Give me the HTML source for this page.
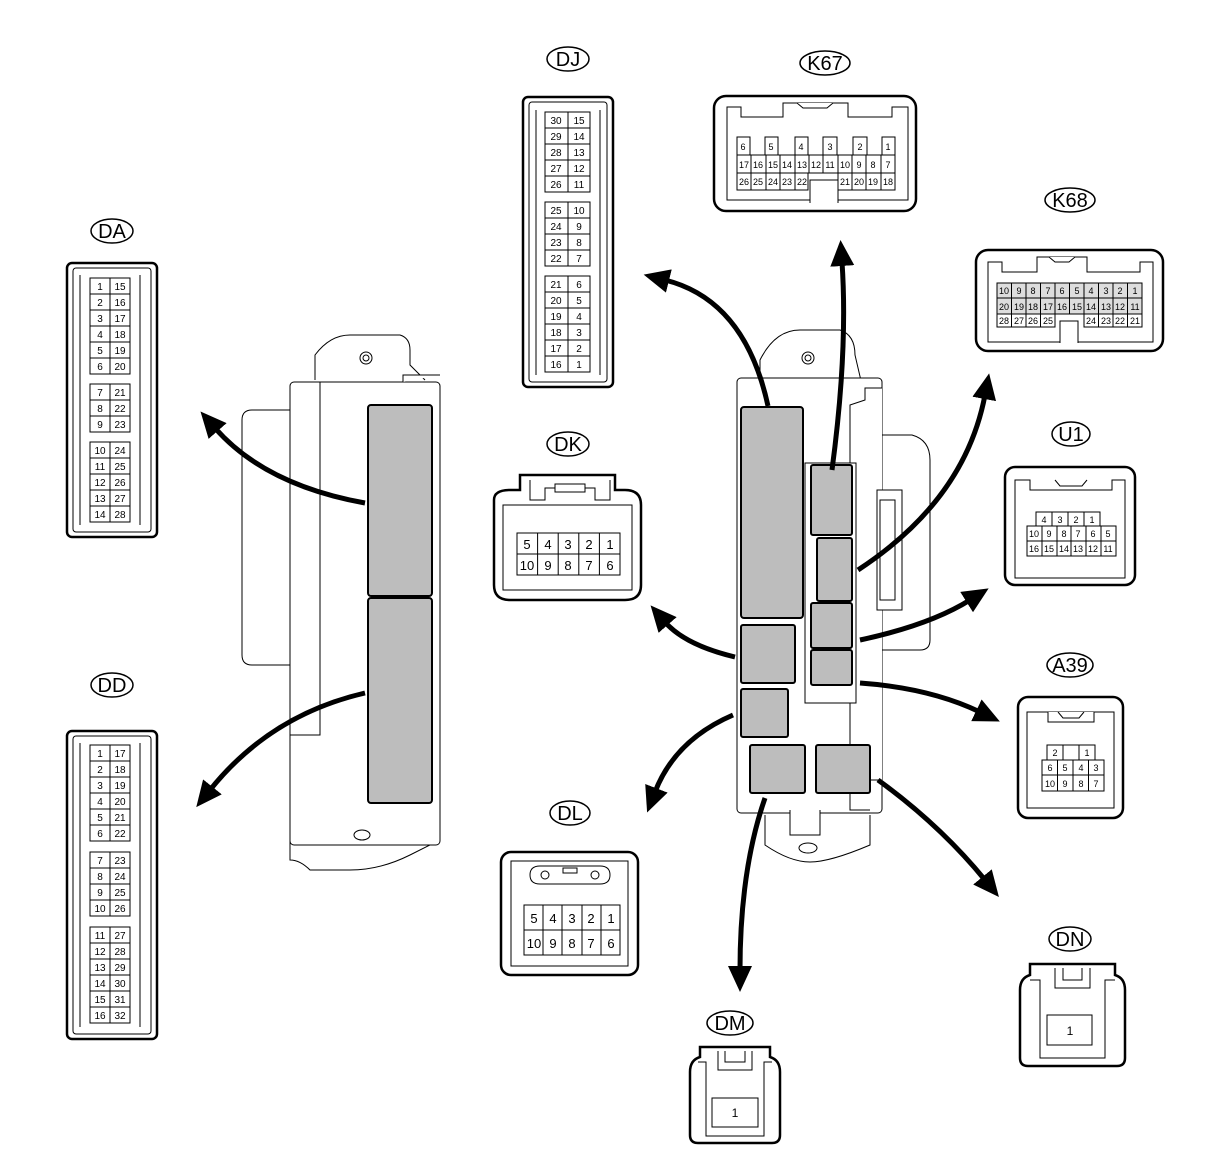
<!DOCTYPE html>
<html><head><meta charset="utf-8"><style>
html,body{margin:0;padding:0;background:#fff}
svg{display:block}
text{font-family:"Liberation Sans",sans-serif;fill:#000}
.p{font-size:10px;text-anchor:middle}
.l{font-size:20px;text-anchor:middle}
.c{fill:#fff;stroke:#000;stroke-width:1}
.g{fill:#bdbdbd;stroke:#000;stroke-width:2}
.o{fill:#fff;stroke:#000;stroke-width:1}
.a{fill:none;stroke:#000;stroke-width:5}
.b{fill:none;stroke:#000;stroke-width:3}
</style></head><body>
<svg width="1210" height="1156" viewBox="0 0 1210 1156" xmlns="http://www.w3.org/2000/svg">
<defs>
<marker id="ah" markerUnits="userSpaceOnUse" markerWidth="30" markerHeight="30" refX="4" refY="12" orient="auto">
<path d="M0,0 L26,12 L0,24 Z" fill="#000"/>
</marker>
</defs>

<!-- Labels -->
<g fill="#fff" stroke="#000" stroke-width="1.5">
<ellipse cx="112" cy="231" rx="21" ry="12"/>
<ellipse cx="112" cy="685" rx="21" ry="12"/>
<ellipse cx="568" cy="59" rx="21" ry="12"/>
<ellipse cx="825" cy="63" rx="25" ry="12"/>
<ellipse cx="1070" cy="200" rx="25" ry="12"/>
<ellipse cx="568" cy="444" rx="21" ry="12"/>
<ellipse cx="1071" cy="434" rx="19" ry="12"/>
<ellipse cx="1070" cy="665" rx="23" ry="12"/>
<ellipse cx="570" cy="813" rx="20" ry="12"/>
<ellipse cx="1070" cy="939" rx="21" ry="12"/>
<ellipse cx="730" cy="1023" rx="23" ry="12"/>
</g>
<text class="l" x="112" y="238">DA</text>
<text class="l" x="112" y="692">DD</text>
<text class="l" x="568" y="66">DJ</text>
<text class="l" x="825" y="70">K67</text>
<text class="l" x="1070" y="207">K68</text>
<text class="l" x="568" y="451">DK</text>
<text class="l" x="1071" y="441">U1</text>
<text class="l" x="1070" y="672">A39</text>
<text class="l" x="570" y="820">DL</text>
<text class="l" x="1070" y="946">DN</text>
<text class="l" x="730" y="1030">DM</text>

<!-- DA -->
<rect x="67" y="263" width="90" height="274" rx="5" fill="#fff" stroke="#000" stroke-width="2.5"/>
<rect x="73" y="268" width="78" height="264" rx="3" class="o"/>
<path d="M80,275 L80,525 M140,275 L140,525" stroke="#000" fill="none"/>
<g class="c">
<rect x="90" y="278" width="20" height="96"/><rect x="110" y="278" width="20" height="96"/>
<rect x="90" y="384" width="20" height="48"/><rect x="110" y="384" width="20" height="48"/>
<rect x="90" y="442" width="20" height="80"/><rect x="110" y="442" width="20" height="80"/>
</g>
<path d="M90,294h40M90,310h40M90,326h40M90,342h40M90,358h40M90,400h40M90,416h40M90,458h40M90,474h40M90,490h40M90,506h40" stroke="#000"/>
<g class="p">
<text x="100" y="290">1</text><text x="120" y="290">15</text>
<text x="100" y="306">2</text><text x="120" y="306">16</text>
<text x="100" y="322">3</text><text x="120" y="322">17</text>
<text x="100" y="338">4</text><text x="120" y="338">18</text>
<text x="100" y="354">5</text><text x="120" y="354">19</text>
<text x="100" y="370">6</text><text x="120" y="370">20</text>
<text x="100" y="396">7</text><text x="120" y="396">21</text>
<text x="100" y="412">8</text><text x="120" y="412">22</text>
<text x="100" y="428">9</text><text x="120" y="428">23</text>
<text x="100" y="454">10</text><text x="120" y="454">24</text>
<text x="100" y="470">11</text><text x="120" y="470">25</text>
<text x="100" y="486">12</text><text x="120" y="486">26</text>
<text x="100" y="502">13</text><text x="120" y="502">27</text>
<text x="100" y="518">14</text><text x="120" y="518">28</text>
</g>

<!-- DD -->
<rect x="67" y="731" width="90" height="308" rx="5" fill="#fff" stroke="#000" stroke-width="2.5"/>
<rect x="73" y="736" width="78" height="298" rx="3" class="o"/>
<path d="M80,743 L80,1027 M140,743 L140,1027" stroke="#000" fill="none"/>
<g class="c">
<rect x="90" y="745" width="20" height="96"/><rect x="110" y="745" width="20" height="96"/>
<rect x="90" y="852" width="20" height="64"/><rect x="110" y="852" width="20" height="64"/>
<rect x="90" y="927" width="20" height="96"/><rect x="110" y="927" width="20" height="96"/>
</g>
<path d="M90,761h40M90,777h40M90,793h40M90,809h40M90,825h40M90,868h40M90,884h40M90,900h40M90,943h40M90,959h40M90,975h40M90,991h40M90,1007h40" stroke="#000"/>
<g class="p">
<text x="100" y="757">1</text><text x="120" y="757">17</text>
<text x="100" y="773">2</text><text x="120" y="773">18</text>
<text x="100" y="789">3</text><text x="120" y="789">19</text>
<text x="100" y="805">4</text><text x="120" y="805">20</text>
<text x="100" y="821">5</text><text x="120" y="821">21</text>
<text x="100" y="837">6</text><text x="120" y="837">22</text>
<text x="100" y="864">7</text><text x="120" y="864">23</text>
<text x="100" y="880">8</text><text x="120" y="880">24</text>
<text x="100" y="896">9</text><text x="120" y="896">25</text>
<text x="100" y="912">10</text><text x="120" y="912">26</text>
<text x="100" y="939">11</text><text x="120" y="939">27</text>
<text x="100" y="955">12</text><text x="120" y="955">28</text>
<text x="100" y="971">13</text><text x="120" y="971">29</text>
<text x="100" y="987">14</text><text x="120" y="987">30</text>
<text x="100" y="1003">15</text><text x="120" y="1003">31</text>
<text x="100" y="1019">16</text><text x="120" y="1019">32</text>
</g>

<!-- DJ -->
<rect x="523" y="97" width="90" height="290" rx="5" fill="#fff" stroke="#000" stroke-width="2.5"/>
<rect x="529" y="102" width="78" height="280" rx="3" class="o"/>
<path d="M536,110 L536,375 M600,110 L600,375" stroke="#000" fill="none"/>
<g class="c">
<rect x="545" y="112" width="23" height="80"/><rect x="568" y="112" width="22" height="80"/>
<rect x="545" y="202" width="23" height="64"/><rect x="568" y="202" width="22" height="64"/>
<rect x="545" y="276" width="23" height="96"/><rect x="568" y="276" width="22" height="96"/>
</g>
<path d="M545,128h45M545,144h45M545,160h45M545,176h45M545,218h45M545,234h45M545,250h45M545,292h45M545,308h45M545,324h45M545,340h45M545,356h45" stroke="#000"/>
<g class="p">
<text x="556" y="124">30</text><text x="579" y="124">15</text>
<text x="556" y="140">29</text><text x="579" y="140">14</text>
<text x="556" y="156">28</text><text x="579" y="156">13</text>
<text x="556" y="172">27</text><text x="579" y="172">12</text>
<text x="556" y="188">26</text><text x="579" y="188">11</text>
<text x="556" y="214">25</text><text x="579" y="214">10</text>
<text x="556" y="230">24</text><text x="579" y="230">9</text>
<text x="556" y="246">23</text><text x="579" y="246">8</text>
<text x="556" y="262">22</text><text x="579" y="262">7</text>
<text x="556" y="288">21</text><text x="579" y="288">6</text>
<text x="556" y="304">20</text><text x="579" y="304">5</text>
<text x="556" y="320">19</text><text x="579" y="320">4</text>
<text x="556" y="336">18</text><text x="579" y="336">3</text>
<text x="556" y="352">17</text><text x="579" y="352">2</text>
<text x="556" y="368">16</text><text x="579" y="368">1</text>
</g>

<!-- K67 -->
<rect x="714" y="96" width="202" height="115" rx="12" fill="#fff" stroke="#000" stroke-width="2.5"/>
<path d="M727,200 L727,107 L741,107 L741,117 L783,117 L783,103 L848,103 L848,117 L892,117 L892,107 L908,107 L908,200 Z" class="o"/>
<path d="M797,103 L803,108 L827,108 L833,103" class="o"/>
<g class="c">
<rect x="737" y="137" width="13" height="18"/><rect x="765" y="137" width="13" height="18"/><rect x="795" y="137" width="13" height="18"/>
<rect x="823" y="137" width="14" height="18"/><rect x="853" y="137" width="14" height="18"/><rect x="882" y="137" width="13" height="18"/>
<rect x="737" y="155" width="158" height="18"/>
<rect x="737" y="173" width="71" height="17"/><rect x="838" y="173" width="57" height="17"/>
</g>
<path d="M751,155v18M766,155v18M780,155v18M795,155v18M809,155v18M823,155v18M838,155v18M852,155v18M866,155v18M881,155v18M751,173v17M766,173v17M780,173v17M795,173v17M852,173v17M866,173v17M881,173v17" stroke="#000"/>
<path d="M810,203 L810,180 L838,180 L838,203" class="o"/>
<g class="p" style="font-size:9px">
<text x="743" y="150">6</text><text x="771" y="150">5</text><text x="801" y="150">4</text><text x="830" y="150">3</text><text x="860" y="150">2</text><text x="888" y="150">1</text>
<text x="744" y="168">17</text><text x="758" y="168">16</text><text x="773" y="168">15</text><text x="787" y="168">14</text><text x="802" y="168">13</text><text x="816" y="168">12</text><text x="830" y="168">11</text><text x="845" y="168">10</text><text x="859" y="168">9</text><text x="873" y="168">8</text><text x="888" y="168">7</text>
<text x="744" y="185">26</text><text x="758" y="185">25</text><text x="773" y="185">24</text><text x="787" y="185">23</text><text x="802" y="185">22</text>
<text x="845" y="185">21</text><text x="859" y="185">20</text><text x="873" y="185">19</text><text x="888" y="185">18</text>
</g>

<!-- K68 -->
<rect x="976" y="250" width="187" height="101" rx="12" fill="#fff" stroke="#000" stroke-width="2.5"/>
<path d="M988,342 L988,262 L1002,262 L1002,272 L1037,272 L1037,257 L1087,257 L1087,272 L1140,272 L1140,262 L1153,262 L1153,342 Z" class="o"/>
<path d="M1049,257 L1055,262 L1069,262 L1075,257" class="o"/>
<g class="c">
<rect x="997" y="283" width="145" height="15" fill="#ddd"/><rect x="997" y="298" width="145" height="16" fill="#ddd"/>
<rect x="997" y="314" width="58" height="13"/><rect x="1084" y="314" width="58" height="13"/>
</g>
<path d="M1011.5,283v31M1026,283v31M1040.5,283v31M1055,283v31M1069.5,283v31M1084,283v31M1098.5,283v31M1113,283v31M1127.5,283v31M1011.5,314v13M1026,314v13M1040.5,314v13M1098.5,314v13M1113,314v13M1127.5,314v13" stroke="#000"/>
<path d="M1060,343 L1060,321 L1078,321 L1078,343" class="o"/>
<g class="p" style="font-size:9px">
<text x="1004" y="294">10</text><text x="1019" y="294">9</text><text x="1033" y="294">8</text><text x="1048" y="294">7</text><text x="1062" y="294">6</text><text x="1077" y="294">5</text><text x="1091" y="294">4</text><text x="1106" y="294">3</text><text x="1120" y="294">2</text><text x="1135" y="294">1</text>
<text x="1004" y="310">20</text><text x="1019" y="310">19</text><text x="1033" y="310">18</text><text x="1048" y="310">17</text><text x="1062" y="310">16</text><text x="1077" y="310">15</text><text x="1091" y="310">14</text><text x="1106" y="310">13</text><text x="1120" y="310">12</text><text x="1135" y="310">11</text>
<text x="1004" y="324">28</text><text x="1019" y="324">27</text><text x="1033" y="324">26</text><text x="1048" y="324">25</text>
<text x="1091" y="324">24</text><text x="1106" y="324">23</text><text x="1120" y="324">22</text><text x="1135" y="324">21</text>
</g>

<!-- DK -->
<path d="M494,500 Q494,490 510,490 L520,490 L520,475 L615,475 L615,490 L625,490 Q641,490 641,505 L641,585 Q641,600 625,600 L510,600 Q494,600 494,585 Z" fill="#fff" stroke="#000" stroke-width="2.5"/>
<path d="M503,505 L503,590 L632,590 L632,505 Z" class="o"/>
<path d="M530,480 L530,500 L545,500 L545,488 L555,488 M585,488 L595,488 L595,500 L610,500 L610,480 M555,484 L585,484 L585,492 L555,492 Z" class="o"/>
<g class="c"><rect x="517" y="533" width="103" height="21"/><rect x="517" y="554" width="103" height="21"/></g>
<path d="M537.6,533v42M558.2,533v42M578.8,533v42M599.4,533v42" stroke="#000"/>
<g class="p" style="font-size:13px">
<text x="527" y="549">5</text><text x="548" y="549">4</text><text x="568" y="549">3</text><text x="589" y="549">2</text><text x="610" y="549">1</text>
<text x="527" y="570">10</text><text x="548" y="570">9</text><text x="568" y="570">8</text><text x="589" y="570">7</text><text x="610" y="570">6</text>
</g>

<!-- U1 -->
<rect x="1005" y="467" width="130" height="118" rx="10" fill="#fff" stroke="#000" stroke-width="2.5"/>
<path d="M1015,578 L1015,480 L1030,480 L1030,490 L1112,490 L1112,480 L1125,480 L1125,578 Z" class="o"/>
<path d="M1055,480 L1060,486 L1082,486 L1087,480" class="o"/>
<g class="c"><rect x="1036" y="512" width="64" height="14"/><rect x="1027" y="526" width="89" height="15"/><rect x="1027" y="541" width="89" height="15"/></g>
<path d="M1052,512v14M1068,512v14M1084,512v14M1042,526v30M1057,526v30M1071,526v30M1086,526v30M1101,526v30" stroke="#000"/>
<g class="p" style="font-size:9px">
<text x="1044" y="523">4</text><text x="1060" y="523">3</text><text x="1076" y="523">2</text><text x="1092" y="523">1</text>
<text x="1034" y="537">10</text><text x="1049" y="537">9</text><text x="1064" y="537">8</text><text x="1078" y="537">7</text><text x="1093" y="537">6</text><text x="1108" y="537">5</text>
<text x="1034" y="552">16</text><text x="1049" y="552">15</text><text x="1064" y="552">14</text><text x="1078" y="552">13</text><text x="1093" y="552">12</text><text x="1108" y="552">11</text>
</g>

<!-- A39 -->
<rect x="1018" y="697" width="105" height="121" rx="10" fill="#fff" stroke="#000" stroke-width="2.5"/>
<path d="M1027,808 L1027,712 L1114,712 L1114,808 Z" class="o"/>
<path d="M1048,712 L1048,722 L1094,722 L1094,712 M1058,712 L1063,718 L1079,718 L1084,712" class="o"/>
<g class="c"><rect x="1047" y="745" width="16" height="15"/><rect x="1079" y="745" width="16" height="15"/><rect x="1042" y="760" width="62" height="15"/><rect x="1042" y="775" width="62" height="16"/></g>
<path d="M1057.5,760v31M1073,760v31M1088.5,760v31M1063,745h16" stroke="#000"/>
<g class="p" style="font-size:9px">
<text x="1055" y="756">2</text><text x="1087" y="756">1</text>
<text x="1050" y="771">6</text><text x="1065" y="771">5</text><text x="1081" y="771">4</text><text x="1096" y="771">3</text>
<text x="1050" y="787">10</text><text x="1065" y="787">9</text><text x="1081" y="787">8</text><text x="1096" y="787">7</text>
</g>

<!-- DL -->
<rect x="501" y="852" width="137" height="123" rx="10" fill="#fff" stroke="#000" stroke-width="2.5"/>
<rect x="511" y="861" width="117" height="105" class="o"/>
<path d="M530,875 Q530,866 540,866 L600,866 Q610,866 610,875 Q610,884 600,884 L540,884 Q530,884 530,875 Z" class="o"/>
<circle cx="545" cy="875" r="4" class="o"/><circle cx="595" cy="875" r="4" class="o"/>
<rect x="563" y="868" width="14" height="5" class="o"/>
<g class="c"><rect x="524" y="905" width="96" height="25"/><rect x="524" y="930" width="96" height="25"/></g>
<path d="M543,905v50M562,905v50M582,905v50M601,905v50" stroke="#000"/>
<g class="p" style="font-size:13px">
<text x="534" y="923">5</text><text x="553" y="923">4</text><text x="572" y="923">3</text><text x="591" y="923">2</text><text x="611" y="923">1</text>
<text x="534" y="948">10</text><text x="553" y="948">9</text><text x="572" y="948">8</text><text x="591" y="948">7</text><text x="611" y="948">6</text>
</g>

<!-- DN -->
<path d="M1030,964 L1115,964 L1115,975 Q1125,978 1125,990 L1125,1058 Q1125,1066 1117,1066 L1028,1066 Q1020,1066 1020,1058 L1020,990 Q1020,978 1030,975 Z" fill="#fff" stroke="#000" stroke-width="2.5"/>
<path d="M1030,980 L1040,980 L1040,1058 L1105,1058 L1105,980 L1115,980 M1055,968 L1055,988 L1090,988 L1090,968 M1063,968 L1063,980 L1082,980 L1082,968" class="o"/>
<rect x="1047" y="1015" width="45" height="30" class="o"/>
<text class="p" x="1070" y="1035" style="font-size:12px">1</text>

<!-- DM -->
<path d="M700,1047 L770,1047 L770,1057 Q780,1060 780,1072 L780,1135 Q780,1143 772,1143 L698,1143 Q690,1143 690,1135 L690,1072 Q690,1060 700,1057 Z" fill="#fff" stroke="#000" stroke-width="2.5"/>
<path d="M698,1062 L706,1062 L706,1136 L764,1136 L764,1062 L772,1062 M718,1051 L718,1070 L752,1070 L752,1051 M725,1051 L725,1062 L745,1062 L745,1051" class="o"/>
<rect x="712" y="1098" width="46" height="29" class="o"/>
<text class="p" x="735" y="1117" style="font-size:12px">1</text>

<!-- Left ECU -->
<g fill="#fff" stroke="#000" stroke-width="1">
<path d="M290,410 L252,410 Q242,410 242,420 L242,655 Q242,665 252,665 L290,665"/>
<path d="M315,380 L315,355 Q330,335 350,335 L400,335 Q410,338 410,350 L410,365 L425,380"/>
<path d="M290,840 L290,860 Q300,860 310,870 L350,870 Q380,870 410,855 L430,845 L430,830"/>
<rect x="290" y="382" width="150" height="463" rx="4"/>
<path d="M320,382 L320,735 L290,735"/>
<path d="M403,382 L403,375 L440,375"/>
<path d="M290,700 L290,840"/>
</g>
<circle cx="366" cy="358" r="6" class="o"/><circle cx="366" cy="358" r="3" class="o"/>
<ellipse cx="362" cy="835" rx="8" ry="5" class="o"/>
<rect x="368" y="405" width="64" height="191" rx="3" class="g"/>
<rect x="368" y="598" width="64" height="205" rx="3" class="g"/>

<!-- Right ECU -->
<g fill="#fff" stroke="#000" stroke-width="1">
<path d="M760,385 L760,360 Q775,330 800,330 L840,330 Q855,335 855,355 L862,385"/>
<path d="M880,435 L912,435 Q930,440 930,460 L930,640 Q930,650 920,650 L882,650"/>
<path d="M765,815 L765,845 Q790,862 810,862 Q830,862 870,845 L870,815"/>
<rect x="737" y="378" width="145" height="435" rx="4"/>
<path d="M882,388 L880,388 L865,388 L865,400 L850,405 L850,780 L882,780"/>
<path d="M877,490 L902,490 L902,610 L877,610 Z" />
<path d="M880,500 L895,500 L895,600 L880,600 Z"/>
<path d="M850,780 L850,810 L870,810 M790,810 L790,835 L820,835 L820,810"/>
</g>
<circle cx="808" cy="358" r="6" class="o"/><circle cx="808" cy="358" r="3" class="o"/>
<ellipse cx="808" cy="848" rx="9" ry="5" class="o"/>
<rect x="805" y="463" width="51" height="240" fill="#fff" stroke="#000" stroke-width="1"/>
<rect x="741" y="407" width="62" height="211" rx="3" class="g"/>
<rect x="811" y="465" width="41" height="70" rx="2" class="g"/>
<rect x="817" y="538" width="35" height="63" rx="2" class="g"/>
<rect x="811" y="603" width="41" height="45" rx="2" class="g"/>
<rect x="811" y="650" width="41" height="35" rx="2" class="g"/>
<rect x="741" y="610" width="54" height="58" rx="2" class="g" transform="translate(0,15)"/>
<rect x="741" y="689" width="47" height="48" rx="2" class="g"/>
<rect x="750" y="724" width="55" height="48" rx="2" class="g" transform="translate(0,21)"/>
<rect x="816" y="725" width="54" height="48" rx="2" class="g" transform="translate(0,20)"/>

<!-- Arrows -->
<g class="a" marker-end="url(#ah)">
<path d="M365,503 Q265,485 215,428"/>
<path d="M365,693 Q270,715 210,790"/>
<path d="M768,406 Q745,300 665,280"/>
<path d="M832,470 Q848,350 842,262"/>
<path d="M858,570 Q965,500 985,395"/>
<path d="M860,640 Q930,625 970,600"/>
<path d="M860,683 Q930,688 980,712"/>
<path d="M878,780 Q940,825 985,880"/>
<path d="M765,798 Q740,870 740,970"/>
<path d="M733,715 Q675,740 655,792"/>
<path d="M735,657 Q685,645 665,622"/>
</g>
</svg>
</body></html>
